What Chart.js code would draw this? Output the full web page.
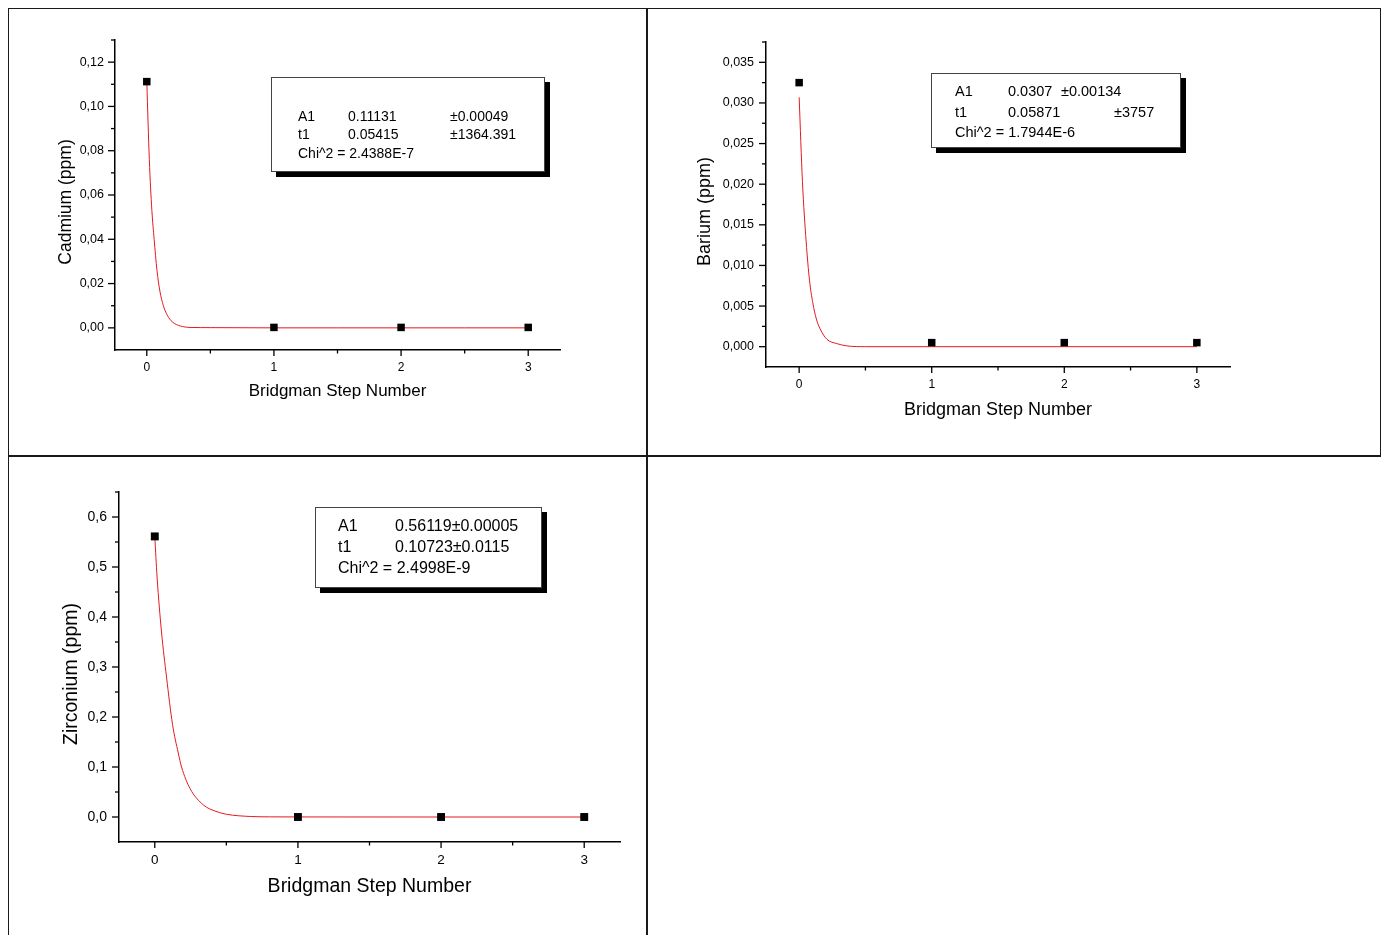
<!DOCTYPE html>
<html><head><meta charset="utf-8">
<script src="https://cdn.jsdelivr.net/npm/chart.js@4"></script>
<style>
body{margin:0;background:#fff;width:1386px;height:935px;overflow:hidden;position:relative;font-family:"Liberation Sans",Arial,sans-serif;}
.ln{position:absolute;background:#1a1a1a;}
.panel{position:absolute;}
.box{position:absolute;box-sizing:border-box;border:1px solid #444;background:#fff;box-shadow:5px 5px 0 #000;}
.t{position:absolute;white-space:nowrap;color:#000;line-height:1;}
</style></head><body>
<script>
// ---- data ----
const stepX = [0, 1, 2, 3];
const xTickLabels = [0, 1, 2, 3];

const cadmiumY = [0.1112, 0.0002, 0.0002, 0.0002];
const cadmiumFitX = [0, 0.02, 0.04, 0.058, 0.08, 0.103, 0.13, 0.155, 0.19, 0.22, 0.28, 0.34, 0.5, 1, 1.5, 2, 2.5, 3];
const cadmiumFitY = [0.1113, 0.076, 0.053, 0.040, 0.026, 0.0166, 0.0101, 0.0064, 0.0033, 0.0019, 0.0006, 0.0002, 0.0001, 0, 0, 0, 0, 0];
const cadmiumYTicks = [0, 0.02, 0.04, 0.06, 0.08, 0.10, 0.12];

const bariumY = [0.0325, 0.0005, 0.0005, 0.0005];
const bariumFitX = [0, 0.025, 0.053, 0.078, 0.103, 0.13, 0.158, 0.21, 0.28, 0.36, 0.5, 1, 2, 3];
const bariumFitY = [0.0307, 0.0203, 0.0129, 0.0082, 0.0054, 0.0034, 0.0022, 0.0009, 0.0004, 0.0001, 0, 0, 0, 0];
const bariumYTicks = [0, 0.005, 0.010, 0.015, 0.020, 0.025, 0.030, 0.035];

const zirconiumY = [0.5612, 0, 0, 0];
const zirconiumFitX = [0, 0.016, 0.047, 0.082, 0.124, 0.164, 0.187, 0.246, 0.34, 0.42, 0.5, 0.67, 0.8, 1, 2, 3];
const zirconiumFitY = [0.5612, 0.48, 0.37, 0.28, 0.185, 0.128, 0.10, 0.057, 0.024, 0.012, 0.0055, 0.001, 0.0003, 0.0001, 0, 0];
const zirconiumYTicks = [0, 0.1, 0.2, 0.3, 0.4, 0.5, 0.6];
</script>

<div class="ln" style="left:8px;top:8px;width:1373px;height:1px"></div>
<div class="ln" style="left:8px;top:8px;width:1px;height:927px"></div>
<div class="ln" style="left:1380px;top:8px;width:1px;height:449px"></div>
<div class="ln" style="left:8px;top:455px;width:1373px;height:2px"></div>
<div class="ln" style="left:646px;top:8px;width:2px;height:927px"></div>

<div class="panel" style="left:10px;top:10px;width:635px;height:444px"><canvas id="c1" width="635" height="444"></canvas></div>
<div class="panel" style="left:649px;top:10px;width:730px;height:444px"><canvas id="c2" width="730" height="444"></canvas></div>
<div class="panel" style="left:10px;top:458px;width:635px;height:477px"><canvas id="c3" width="635" height="477"></canvas></div>

<div class="box" style="left:271px;top:77px;width:274px;height:95px"></div>
<span class="t" style="font-size:14px;left:298px;top:109px">A1</span>
<span class="t" style="font-size:14px;left:348px;top:109px">0.11131</span>
<span class="t" style="font-size:14px;left:450px;top:109px">±0.00049</span>
<span class="t" style="font-size:14px;left:298px;top:127px">t1</span>
<span class="t" style="font-size:14px;left:348px;top:127px">0.05415</span>
<span class="t" style="font-size:14px;left:450px;top:127px">±1364.391</span>
<span class="t" style="font-size:14px;left:298px;top:146px">Chi^2 = 2.4388E-7</span>

<div class="box" style="left:931px;top:73px;width:250px;height:75px"></div>
<span class="t" style="font-size:14.5px;left:955px;top:84px">A1</span>
<span class="t" style="font-size:14.5px;left:1008px;top:84px">0.0307</span>
<span class="t" style="font-size:14.5px;left:1061px;top:84px">±0.00134</span>
<span class="t" style="font-size:14.5px;left:955px;top:105px">t1</span>
<span class="t" style="font-size:14.5px;left:1008px;top:105px">0.05871</span>
<span class="t" style="font-size:14.5px;left:1114px;top:105px">±3757</span>
<span class="t" style="font-size:14.5px;left:955px;top:125px">Chi^2 = 1.7944E-6</span>

<div class="box" style="left:315px;top:507px;width:227px;height:81px"></div>
<span class="t" style="font-size:16px;left:338px;top:518px">A1</span>
<span class="t" style="font-size:16px;left:395px;top:518px">0.56119±0.00005</span>
<span class="t" style="font-size:16px;left:338px;top:539px">t1</span>
<span class="t" style="font-size:16px;left:395px;top:539px">0.10723±0.0115</span>
<span class="t" style="font-size:16px;left:338px;top:560px">Chi^2 = 2.4998E-9</span>

<script>
const FONT = '"Liberation Sans", Arial, sans-serif';

const decor = {
  id: 'decor',
  afterDraw(chart, args, o) {
    const ctx = chart.ctx, xs = chart.scales.x, ys = chart.scales.y, a = chart.chartArea;
    ctx.save();
    ctx.strokeStyle = '#000';
    ctx.lineWidth = 1.3;
    const seg = (x1, y1, x2, y2) => { ctx.beginPath(); ctx.moveTo(x1, y1); ctx.lineTo(x2, y2); ctx.stroke(); };
    const xm = o.xMajor, ym = o.yMajor;
    xm.forEach(v => { const p = xs.getPixelForValue(v); seg(p, a.bottom, p, a.bottom + 6); });
    for (let i = 0; i < xm.length - 1; i++) {
      const p = xs.getPixelForValue((xm[i] + xm[i + 1]) / 2); seg(p, a.bottom, p, a.bottom + 3.5);
    }
    ym.forEach(v => { const p = ys.getPixelForValue(v); seg(a.left, p, a.left - 7, p); });
    const st = ym[1] - ym[0];
    const minors = [];
    for (let i = 0; i < ym.length - 1; i++) minors.push((ym[i] + ym[i + 1]) / 2);
    minors.push(ym[ym.length - 1] + st / 2);
    minors.forEach(v => { if (v <= ys.max + 1e-9 && v >= ys.min) { const p = ys.getPixelForValue(v); seg(a.left, p, a.left - 4, p); } });
    ctx.fillStyle = '#000';
    ctx.textAlign = 'center';
    ctx.textBaseline = 'alphabetic';
    ctx.font = o.xFont + 'px ' + FONT;
    ctx.fillText(o.xTitle, (a.left + a.right) / 2, o.xTitleY);
    ctx.font = o.yFont + 'px ' + FONT;
    ctx.translate(o.yTitleX, (a.top + a.bottom) / 2 + 7);
    ctx.rotate(-Math.PI / 2);
    ctx.fillText(o.yTitle, 0, 0);
    ctx.restore();
  }
};

function makeChart(id, c) {
  const pts = c.x.map((v, i) => ({ x: v, y: c.y[i] }));
  const fit = c.fitX.map((v, i) => ({ x: v, y: c.fitY[i] }));
  return new Chart(document.getElementById(id), {
    type: 'scatter',
    data: {
      datasets: [
        { data: pts, pointStyle: 'rect', pointRadius: c.pr, pointHoverRadius: c.pr, backgroundColor: '#000', borderWidth: 0 },
        { data: fit, showLine: true, borderColor: '#e5191e', borderWidth: 1, pointRadius: 0, cubicInterpolationMode: 'monotone', fill: false }
      ]
    },
    options: {
      responsive: false, animation: false, devicePixelRatio: 1,
      layout: { padding: { left: 0, top: c.padTop, right: c.padRight, bottom: 0 } },
      plugins: { legend: { display: false }, tooltip: { enabled: false },
        decor: { xMajor: xTickLabels, yMajor: c.yTicks, xTitle: 'Bridgman Step Number', yTitle: c.yTitle,
                 xFont: c.xFont, yFont: c.yFont, xTitleY: c.xTitleY, yTitleX: c.yTitleX } },
      scales: {
        x: {
          type: 'linear', min: -0.25, max: 3.25,
          afterFit: s => { s.height = c.xH; },
          afterBuildTicks: s => { s.ticks = xTickLabels.map(v => ({ value: v })); },
          grid: { display: false, drawTicks: false },
          border: { display: true, color: '#000', width: 1.5 },
          ticks: { padding: c.xPad, color: '#000', font: { family: FONT, size: c.xTickFont }, maxRotation: 0, autoSkip: false,
                   callback: v => String(v) }
        },
        y: {
          type: 'linear', min: c.yMin, max: c.yMax,
          afterFit: s => { s.width = c.yW; },
          afterBuildTicks: s => { s.ticks = c.yTicks.map(v => ({ value: v })); },
          grid: { display: false, drawTicks: false },
          border: { display: true, color: '#000', width: 1.5 },
          ticks: { padding: c.yPad, color: '#000', font: { family: FONT, size: c.yTickFont }, autoSkip: false,
                   callback: v => Number(v).toFixed(c.dec).replace('.', ',') }
        }
      }
    },
    plugins: [decor]
  });
}

makeChart('c1', { x: stepX, y: cadmiumY, fitX: cadmiumFitX, fitY: cadmiumFitY, yTicks: cadmiumYTicks,
  yMin: -0.01, yMax: 0.13, dec: 2, yTitle: 'Cadmium (ppm)', pr: 5.3,
  padTop: 30, padRight: 85, yW: 105, xH: 104, xPad: 10, yPad: 11, xTickFont: 12, yTickFont: 12.5,
  xFont: 17, yFont: 17.5, xTitleY: 385.5, yTitleX: 60.5 });

makeChart('c2', { x: stepX, y: bariumY, fitX: bariumFitX, fitY: bariumFitY, yTicks: bariumYTicks,
  yMin: -0.0025, yMax: 0.0375, dec: 3, yTitle: 'Barium (ppm)', pr: 5.3,
  padTop: 32, padRight: 149, yW: 117, xH: 87, xPad: 10, yPad: 12, xTickFont: 12, yTickFont: 12.5,
  xFont: 18, yFont: 18, xTitleY: 404.6, yTitleX: 60.9 });

makeChart('c3', { x: stepX, y: zirconiumY, fitX: zirconiumFitX, fitY: zirconiumFitY, yTicks: zirconiumYTicks,
  yMin: -0.05, yMax: 0.65, dec: 1, yTitle: 'Zirconium (ppm)', pr: 5.6,
  padTop: 34, padRight: 25, yW: 109, xH: 93, xPad: 10, yPad: 12, xTickFont: 13.5, yTickFont: 14,
  xFont: 19.5, yFont: 19.5, xTitleY: 434.3, yTitleX: 66.7 });
</script>
</body></html>
